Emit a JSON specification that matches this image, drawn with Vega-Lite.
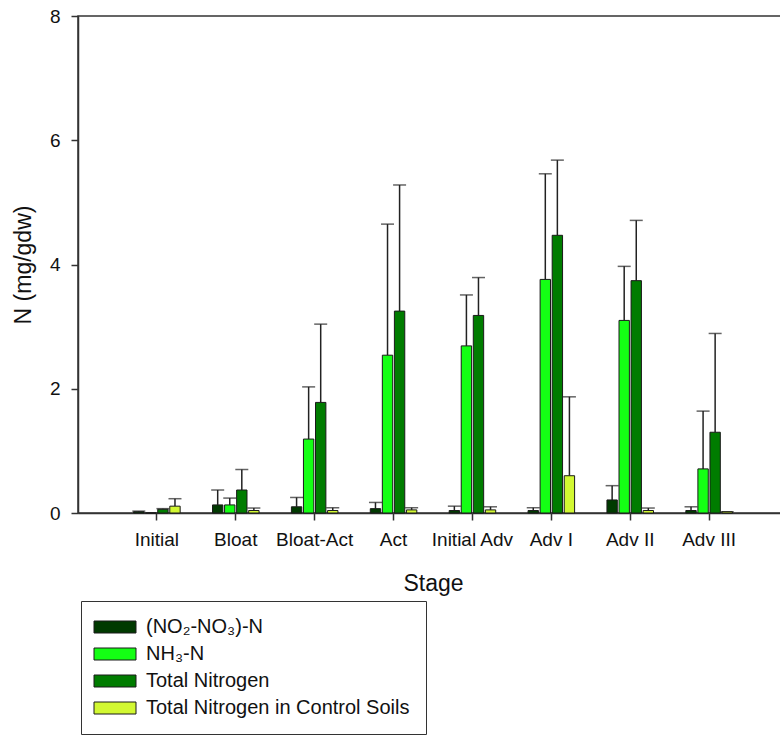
{
  "$schema": "https://vega.github.io/schema/vega-lite/v6.json",
  "autosize": "none",
  "padding": {"left": 78, "top": 16, "right": 0, "bottom": 223},
  "width": 710,
  "height": 497,
  "background": "white",
  "data": {
    "values": [
      {"stage": "Initial", "series": "(NO₂-NO₃)-N", "value": 0.02, "upper": 0.03},
      {"stage": "Initial", "series": "NH₃-N", "value": 0.0, "upper": 0.0},
      {"stage": "Initial", "series": "Total Nitrogen", "value": 0.06, "upper": 0.07},
      {"stage": "Initial", "series": "Total Nitrogen in Control Soils", "value": 0.11, "upper": 0.23},
      {"stage": "Bloat", "series": "(NO₂-NO₃)-N", "value": 0.13, "upper": 0.37},
      {"stage": "Bloat", "series": "NH₃-N", "value": 0.13, "upper": 0.24},
      {"stage": "Bloat", "series": "Total Nitrogen", "value": 0.37, "upper": 0.70},
      {"stage": "Bloat", "series": "Total Nitrogen in Control Soils", "value": 0.04, "upper": 0.08},
      {"stage": "Bloat-Act", "series": "(NO₂-NO₃)-N", "value": 0.10, "upper": 0.25},
      {"stage": "Bloat-Act", "series": "NH₃-N", "value": 1.19, "upper": 2.03},
      {"stage": "Bloat-Act", "series": "Total Nitrogen", "value": 1.78, "upper": 3.04},
      {"stage": "Bloat-Act", "series": "Total Nitrogen in Control Soils", "value": 0.04, "upper": 0.085},
      {"stage": "Act", "series": "(NO₂-NO₃)-N", "value": 0.07, "upper": 0.17},
      {"stage": "Act", "series": "NH₃-N", "value": 2.54, "upper": 4.65},
      {"stage": "Act", "series": "Total Nitrogen", "value": 3.25, "upper": 5.28},
      {"stage": "Act", "series": "Total Nitrogen in Control Soils", "value": 0.05, "upper": 0.085},
      {"stage": "Initial Adv", "series": "(NO₂-NO₃)-N", "value": 0.04, "upper": 0.11},
      {"stage": "Initial Adv", "series": "NH₃-N", "value": 2.69, "upper": 3.51},
      {"stage": "Initial Adv", "series": "Total Nitrogen", "value": 3.18, "upper": 3.79},
      {"stage": "Initial Adv", "series": "Total Nitrogen in Control Soils", "value": 0.05, "upper": 0.10},
      {"stage": "Adv I", "series": "(NO₂-NO₃)-N", "value": 0.04, "upper": 0.085},
      {"stage": "Adv I", "series": "NH₃-N", "value": 3.76, "upper": 5.46},
      {"stage": "Adv I", "series": "Total Nitrogen", "value": 4.47, "upper": 5.68},
      {"stage": "Adv I", "series": "Total Nitrogen in Control Soils", "value": 0.60, "upper": 1.87},
      {"stage": "Adv II", "series": "(NO₂-NO₃)-N", "value": 0.21, "upper": 0.44},
      {"stage": "Adv II", "series": "NH₃-N", "value": 3.10, "upper": 3.97},
      {"stage": "Adv II", "series": "Total Nitrogen", "value": 3.74, "upper": 4.71},
      {"stage": "Adv II", "series": "Total Nitrogen in Control Soils", "value": 0.04, "upper": 0.08},
      {"stage": "Adv III", "series": "(NO₂-NO₃)-N", "value": 0.04, "upper": 0.10},
      {"stage": "Adv III", "series": "NH₃-N", "value": 0.71, "upper": 1.64},
      {"stage": "Adv III", "series": "Total Nitrogen", "value": 1.30, "upper": 2.89},
      {"stage": "Adv III", "series": "Total Nitrogen in Control Soils", "value": 0.02, "upper": 0.02}
    ]
  },
  "encoding": {
    "x": {
      "field": "stage",
      "type": "nominal",
      "sort": ["Initial", "Bloat", "Bloat-Act", "Act", "Initial Adv", "Adv I", "Adv II", "Adv III"],
      "scale": {"paddingInner": 0.41, "paddingOuter": 0.705},
      "axis": {"title": "Stage", "labelAngle": 0}
    },
    "xOffset": {
      "field": "series",
      "type": "nominal",
      "sort": ["(NO₂-NO₃)-N", "NH₃-N", "Total Nitrogen", "Total Nitrogen in Control Soils"],
      "scale": {"paddingInner": 0.14, "paddingOuter": 0}
    }
  },
  "layer": [
    {
      "mark": {"type": "rule", "color": "#222222", "strokeWidth": 1.5},
      "encoding": {
        "y": {"field": "value", "type": "quantitative"},
        "y2": {"field": "upper"}
      }
    },
    {
      "mark": {"type": "tick", "color": "#222222", "thickness": 1.5, "size": 13},
      "encoding": {
        "y": {"field": "upper", "type": "quantitative"}
      }
    },
    {
      "mark": {"type": "bar", "stroke": "#1a1a1a", "strokeWidth": 1},
      "encoding": {
        "y": {
          "field": "value",
          "type": "quantitative",
          "scale": {"domain": [0, 8], "nice": false},
          "axis": {"title": "N (mg/gdw)", "values": [0, 2, 4, 6, 8], "format": "d"}
        },
        "color": {
          "field": "series",
          "type": "nominal",
          "sort": ["(NO₂-NO₃)-N", "NH₃-N", "Total Nitrogen", "Total Nitrogen in Control Soils"],
          "scale": {
            "domain": ["(NO₂-NO₃)-N", "NH₃-N", "Total Nitrogen", "Total Nitrogen in Control Soils"],
            "range": ["#003a00", "#14ff14", "#007c00", "#d2f832"]
          },
          "legend": {
            "title": null,
            "orient": "none",
            "legendX": 3,
            "legendY": 585,
            "symbolType": "M-3.5,-1H3.5V1H-3.5Z",
            "symbolSize": 144,
            "symbolOffset": 8,
            "symbolStrokeColor": "#1a1a1a",
            "symbolStrokeWidth": 1,
            "symbolOpacity": 1,
            "labelFontSize": 20,
            "labelFont": "Liberation Sans",
            "labelColor": "#111111",
            "labelLimit": 400,
            "labelOffset": 21,
            "rowPadding": 7,
            "padding": 16,
            "strokeColor": "#333333",
            "fillColor": "white"
          }
        }
      }
    }
  ],
  "config": {
    "view": {"stroke": "#333333", "strokeWidth": 1.5},
    "axis": {
      "domainColor": "#333333",
      "domainWidth": 1.5,
      "tickColor": "#333333",
      "tickWidth": 1.5,
      "tickSize": 7,
      "grid": false,
      "labelFont": "Liberation Sans",
      "labelFontSize": 19,
      "labelColor": "#111111",
      "titleFont": "Liberation Sans",
      "titleFontSize": 23,
      "titleFontWeight": "normal",
      "titleColor": "#111111"
    },
    "axisX": {"labelPadding": 10, "titlePadding": 23},
    "axisY": {"labelPadding": 11, "titlePadding": 14}
  }
}
